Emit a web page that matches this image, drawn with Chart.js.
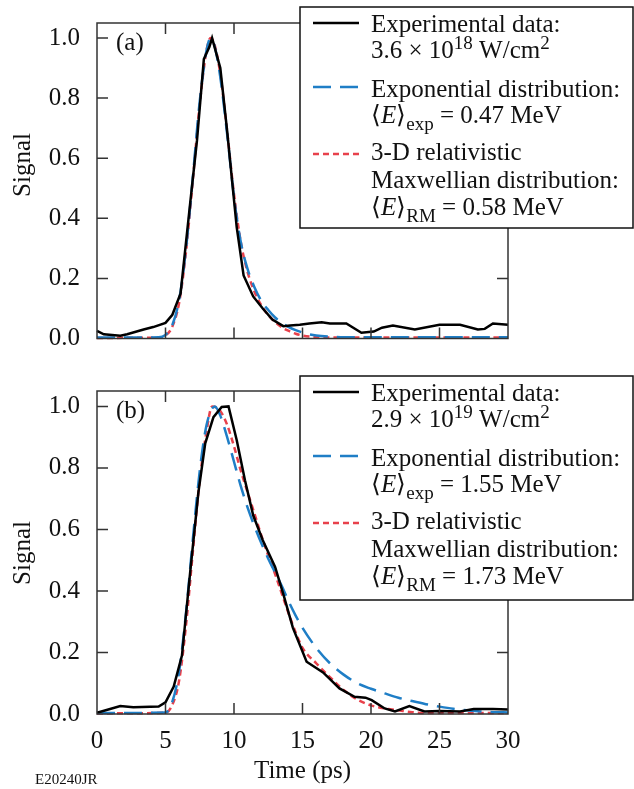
<!DOCTYPE html>
<html>
<head>
<meta charset="utf-8">
<script src="https://cdn.jsdelivr.net/npm/chart.js@4.4.0/dist/chart.umd.min.js"></script>
<style>
  html, body { margin: 0; padding: 0; background: #fff; }
  #wrap { position: relative; width: 634px; height: 789px; }
  canvas { position: absolute; left: 0; }
  #chartA { top: 0; }
  #chartB { top: 360px; }
</style>
</head>
<body>
<div id="wrap">
  <canvas id="chartA" width="634" height="360"></canvas>
  <canvas id="chartB" width="634" height="429"></canvas>
</div>
<script>
// tick values (both panels)
var xTickValues = [0, 5, 10, 15, 20, 25, 30];
var yTickValues = [0, 0.2, 0.4, 0.6, 0.8, 1.0];

// ---- panel (a) ----
var timeExpA = [0, 0.5, 1.7, 2.2, 3.4, 4.1, 5.0, 5.5, 6.1, 6.8, 7.3, 7.8, 8.2, 8.4, 9.0, 9.5, 10.2, 10.7, 11.4, 12.1, 12.8, 13.6, 14.1, 14.8, 15.5, 16.4, 17.0, 18.2, 19.3, 20.2, 20.8, 21.6, 23.2, 25.0, 26.5, 27.8, 28.3, 28.9, 30];
var sigExpA = [0.025, 0.014, 0.009, 0.014, 0.030, 0.038, 0.052, 0.079, 0.15, 0.45, 0.66, 0.93, 0.97, 1.0, 0.90, 0.69, 0.37, 0.21, 0.14, 0.10, 0.063, 0.041, 0.043, 0.046, 0.05, 0.054, 0.05, 0.05, 0.019, 0.023, 0.036, 0.043, 0.03, 0.046, 0.046, 0.03, 0.032, 0.05, 0.046];

var timeExpoA = [0, 4.5, 5.0, 5.5, 6.0, 6.5, 7.0, 7.5, 8.0, 8.3, 8.6, 9.0, 9.5, 10.0, 10.5, 11.0, 11.5, 12.0, 12.5, 13.0, 13.5, 14.0, 14.5, 15.0, 15.5, 16.0, 17.0, 18.0, 30];
var sigExpoA = [0.003, 0.004, 0.012, 0.045, 0.13, 0.3, 0.54, 0.79, 0.96, 1.0, 0.97, 0.87, 0.68, 0.47, 0.32, 0.23, 0.17, 0.125, 0.095, 0.07, 0.052, 0.038, 0.028, 0.02, 0.014, 0.01, 0.006, 0.004, 0.004];

var timeRmA = [0, 4.5, 5.0, 5.5, 6.0, 6.5, 7.0, 7.5, 8.0, 8.3, 8.6, 9.0, 9.5, 10.0, 10.5, 11.0, 11.5, 12.0, 12.5, 13.0, 13.5, 14.0, 14.5, 15.0, 16.0, 17.0, 30];
var sigRmA = [0.002, 0.003, 0.01, 0.04, 0.12, 0.29, 0.53, 0.78, 0.96, 1.0, 0.975, 0.88, 0.69, 0.48, 0.32, 0.22, 0.155, 0.11, 0.078, 0.055, 0.037, 0.025, 0.016, 0.01, 0.005, 0.003, 0.003];

var legendA = [
  'Experimental data:',
  '3.6 × 10^{18} W/cm^{2}',
  'Exponential distribution:',
  '⟨*E*⟩_{exp} = 0.47 MeV',
  '3-D relativistic',
  'Maxwellian distribution:',
  '⟨*E*⟩_{RM} = 0.58 MeV'
];

// ---- panel (b) ----
var timeExpB = [0, 0.7, 1.7, 2.65, 4.5, 5.0, 5.6, 6.2, 6.8, 7.4, 7.9, 8.5, 9.1, 9.6, 10.2, 10.8, 11.4, 12.1, 13.0, 13.6, 14.3, 15.3, 16.5, 17.7, 18.8, 19.6, 20.05, 21.0, 21.75, 22.8, 23.9, 25.0, 26.5, 27.5, 28.9, 30];
var sigExpB = [0.004, 0.013, 0.026, 0.022, 0.024, 0.038, 0.089, 0.19, 0.46, 0.72, 0.88, 0.965, 0.998, 1.0, 0.89, 0.76, 0.646, 0.565, 0.478, 0.39, 0.28, 0.17, 0.135, 0.083, 0.056, 0.053, 0.045, 0.018, 0.008, 0.026, 0.008, 0.01, 0.008, 0.016, 0.016, 0.015];

var timeExpoB = [0, 5.0, 5.5, 6.0, 6.5, 7.0, 7.5, 8.0, 8.6, 9.0, 9.5, 10.0, 10.5, 11.0, 11.5, 12.0, 12.5, 13.0, 13.5, 14.0, 14.5, 15.0, 16.0, 17.0, 18.0, 19.0, 20.0, 21.0, 22.0, 23.0, 24.0, 25.0, 26.0, 27.0, 28.0, 29.0, 30.0];
var sigExpoB = [0.003, 0.005, 0.04, 0.14, 0.33, 0.57, 0.79, 0.94, 1.0, 0.97, 0.9, 0.82, 0.74, 0.67, 0.61, 0.555, 0.505, 0.46, 0.415, 0.365, 0.32, 0.28, 0.215, 0.165, 0.128, 0.1, 0.082, 0.067, 0.053, 0.042, 0.032, 0.024, 0.017, 0.012, 0.008, 0.006, 0.005];

var timeRmB = [0, 5.0, 5.5, 6.0, 6.5, 7.0, 7.5, 8.0, 8.4, 9.0, 9.5, 10.0, 10.5, 11.0, 11.5, 12.0, 12.5, 13.0, 13.5, 14.0, 14.5, 15.0, 16.0, 17.0, 18.0, 19.0, 20.0, 21.0, 22.0, 23.0, 24.0, 30.0];
var sigRmB = [0.002, 0.004, 0.03, 0.11, 0.29, 0.53, 0.76, 0.92, 1.0, 0.985, 0.94, 0.87, 0.79, 0.72, 0.65, 0.58, 0.515, 0.455, 0.39, 0.325, 0.265, 0.215, 0.165, 0.12, 0.078, 0.047, 0.028, 0.018, 0.012, 0.006, 0.003, 0.003];

var legendB = [
  'Experimental data:',
  '2.9 × 10^{19} W/cm^{2}',
  'Exponential distribution:',
  '⟨*E*⟩_{exp} = 1.55 MeV',
  '3-D relativistic',
  'Maxwellian distribution:',
  '⟨*E*⟩_{RM} = 1.73 MeV'
];

var FONT = '"Liberation Serif", "Times New Roman", serif';
var BLUE = '#1f7ec6';
var RED = '#e8414b';

function pts(xs, ys) {
  return xs.map(function (x, i) { return { x: x, y: ys[i] }; });
}

// draws a line of text with ^{sup}, _{sub} and *italic* markup
function drawRich(ctx, str, x, y) {
  var parts = str.split(/(\^\{[^}]*\}|_\{[^}]*\}|\*[^*]+\*)/);
  parts.forEach(function (p) {
    if (!p) return;
    var size = 25, dy = 0, style = '', txt = p;
    if (p[0] === '^') { txt = p.slice(2, -1); size = 19; dy = -9; }
    else if (p[0] === '_') { txt = p.slice(2, -1); size = 19; dy = 7; }
    else if (p[0] === '*') { txt = p.slice(1, -1); style = 'italic '; }
    ctx.font = style + size + 'px ' + FONT;
    ctx.fillText(txt, x, y + dy);
    x += ctx.measureText(txt).width;
  });
}

var framePlugin = {
  id: 'frame',
  afterDatasetsDraw: function (chart, args, o) {
    var ctx = chart.ctx, a = chart.chartArea;
    var xs = chart.scales.x, ys = chart.scales.y;
    ctx.save();
    // frame + inward ticks on all four sides
    ctx.strokeStyle = '#333';
    ctx.lineWidth = 1.5;
    ctx.strokeRect(a.left, a.top, a.right - a.left, a.bottom - a.top);
    ctx.beginPath();
    xs.ticks.forEach(function (t) {
      var px = xs.getPixelForValue(t.value);
      if (px <= a.left + 1 || px >= a.right - 1) return;
      ctx.moveTo(px, a.bottom); ctx.lineTo(px, a.bottom - 11);
      ctx.moveTo(px, a.top); ctx.lineTo(px, a.top + 11);
    });
    ys.ticks.forEach(function (t) {
      var py = ys.getPixelForValue(t.value);
      if (py >= a.bottom - 1) return;
      ctx.moveTo(a.left, py); ctx.lineTo(a.left + 11, py);
      ctx.moveTo(a.right, py); ctx.lineTo(a.right - 11, py);
    });
    ctx.stroke();

    // panel tag
    ctx.fillStyle = '#111';
    ctx.font = '25px ' + FONT;
    ctx.textBaseline = 'middle';
    ctx.fillText(o.tag, a.left + 19, a.top + 20);

    // y axis title
    ctx.save();
    ctx.translate(23, o.titleY);
    ctx.rotate(-Math.PI / 2);
    ctx.textAlign = 'center';
    ctx.fillText('Signal', 0, 0);
    ctx.restore();

    // legend box
    var L = o.box;
    ctx.fillStyle = '#fff';
    ctx.fillRect(L.x, L.y, L.w, L.h);
    ctx.strokeStyle = '#111';
    ctx.lineWidth = 1.5;
    ctx.strokeRect(L.x, L.y, L.w, L.h);

    var rowBase = [25, 51, 90, 116, 153, 181, 208];
    var lineY = [16, 80, 147];
    chart.data.datasets.forEach(function (ds, i) {
      ctx.beginPath();
      ctx.strokeStyle = ds.borderColor;
      ctx.lineWidth = ds.borderWidth;
      ctx.setLineDash(ds.borderDash || []);
      ctx.moveTo(L.x + 13, L.y + lineY[i]);
      ctx.lineTo(L.x + 59, L.y + lineY[i]);
      ctx.stroke();
    });
    ctx.setLineDash([]);
    ctx.fillStyle = '#111';
    ctx.textBaseline = 'alphabetic';
    o.rows.forEach(function (r, i) {
      drawRich(ctx, r, L.x + 71, L.y + rowBase[i]);
    });

    if (o.note) {
      ctx.font = '15px ' + FONT;
      ctx.fillText(o.note, 35, chart.height - 5);
    }
    ctx.restore();
  }
};

function makeChart(id, d, cfg) {
  var showX = cfg.showX;
  return new Chart(document.getElementById(id), {
    type: 'line',
    data: {
      datasets: [
        { label: 'Experimental data', data: pts(d[0], d[1]), borderColor: '#000', borderWidth: 2.5, tension: 0 },
        { label: 'Exponential distribution', data: pts(d[2], d[3]), borderColor: BLUE, borderWidth: 2.5, borderDash: [18, 9], cubicInterpolationMode: 'monotone' },
        { label: '3-D relativistic Maxwellian distribution', data: pts(d[4], d[5]), borderColor: RED, borderWidth: 2.5, borderDash: [6, 4], cubicInterpolationMode: 'monotone' }
      ]
    },
    options: {
      responsive: false,
      animation: false,
      events: [],
      clip: false,
      elements: { point: { radius: 0 } },
      layout: { padding: cfg.padding },
      scales: {
        x: {
          type: 'linear', min: 0, max: 30,
          afterBuildTicks: function (s) { s.ticks = xTickValues.map(function (v) { return { value: v }; }); },
          afterFit: function (s) { s.height = cfg.xHeight; },
          grid: { display: false },
          border: { display: false },
          ticks: { display: showX, color: '#111', padding: 4, font: { family: FONT, size: 25 } },
          title: { display: showX, text: 'Time (ps)', color: '#111', padding: { top: 0, bottom: 3 }, font: { family: FONT, size: 25 } }
        },
        y: {
          min: 0, max: 1.05,
          afterBuildTicks: function (s) { s.ticks = yTickValues.map(function (v) { return { value: v }; }); },
          afterFit: function (s) { s.width = 97; },
          grid: { display: false },
          border: { display: false },
          ticks: { color: '#111', padding: 9, font: { family: FONT, size: 25, lineHeight: 1 },
                   callback: function (v) { return v.toFixed(1); } }
        }
      },
      plugins: {
        legend: { display: false },
        tooltip: { enabled: false },
        frame: { tag: cfg.tag, rows: cfg.rows, box: cfg.box, note: cfg.note, titleY: cfg.titleY }
      }
    },
    plugins: [framePlugin]
  });
}

makeChart('chartA', [timeExpA, sigExpA, timeExpoA, sigExpoA, timeRmA, sigRmA], {
  showX: false, xHeight: 0,
  padding: { top: 23, right: 126, bottom: 14, left: 0 },
  tag: '(a)', rows: legendA, titleY: 165,
  box: { x: 300, y: 7, w: 333, h: 221 }
});

makeChart('chartB', [timeExpB, sigExpB, timeExpoB, sigExpoB, timeRmB, sigRmB], {
  showX: true, xHeight: 75,
  padding: { top: 31, right: 126, bottom: 0, left: 0 },
  tag: '(b)', rows: legendB, titleY: 193,
  box: { x: 300, y: 16, w: 333, h: 224 },
  note: 'E20240JR'
});
</script>
</body>
</html>
